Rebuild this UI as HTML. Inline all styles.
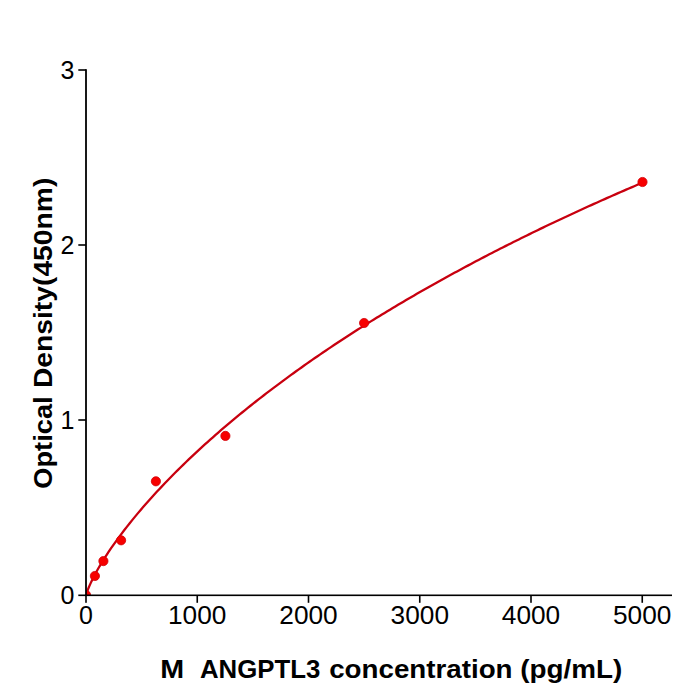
<!DOCTYPE html>
<html><head><meta charset="utf-8"><style>
html,body{margin:0;padding:0;background:#fff;}
svg{display:block;}
.t{font-family:"Liberation Sans",sans-serif;font-size:25px;fill:#000;}
.l{font-family:"Liberation Sans",sans-serif;font-size:25px;font-weight:bold;fill:#000;}
</style></head><body>
<svg width="700" height="700" viewBox="0 0 700 700">
<rect width="700" height="700" fill="#fff"/>
<defs><clipPath id="c"><rect x="86.0" y="70.0" width="586.0" height="525.0"/></clipPath></defs>
<g clip-path="url(#c)">
<polyline points="86.00,596.13 86.57,593.64 87.14,591.82 87.71,590.21 88.28,588.70 88.85,587.28 89.42,585.92 89.99,584.61 90.56,583.35 91.13,582.11 91.71,580.91 92.28,579.73 92.85,578.58 93.42,577.45 93.99,576.34 94.56,575.25 95.13,574.18 95.70,573.12 96.27,572.08 96.84,571.04 97.41,570.03 97.98,569.02 98.55,568.03 99.12,567.04 99.69,566.07 100.26,565.11 100.83,564.15 101.40,563.21 101.97,562.27 102.54,561.34 103.12,560.42 103.69,559.51 104.26,558.60 104.83,557.71 105.40,556.81 105.97,555.93 106.54,555.05 107.11,554.18 107.68,553.31 108.25,552.45 110.93,548.48 113.62,544.61 116.30,540.85 118.98,537.17 121.67,533.58 124.35,530.05 127.03,526.60 129.72,523.21 132.40,519.88 135.08,516.61 137.77,513.38 140.45,510.21 143.13,507.09 145.82,504.00 148.50,500.96 151.18,497.97 153.87,495.01 156.55,492.08 159.23,489.19 161.92,486.34 164.60,483.52 167.29,480.73 169.97,477.97 172.65,475.24 175.34,472.54 178.02,469.86 180.70,467.21 183.39,464.59 186.07,462.00 188.75,459.42 191.44,456.88 194.12,454.35 196.80,451.85 199.49,449.37 202.17,446.91 204.85,444.47 207.54,442.05 210.22,439.65 212.90,437.27 215.59,434.91 218.27,432.57 220.95,430.24 223.64,427.94 226.32,425.65 229.00,423.38 231.69,421.12 234.37,418.88 237.05,416.66 239.74,414.45 242.42,412.26 245.10,410.08 247.79,407.92 250.47,405.77 253.15,403.64 255.84,401.52 258.52,399.42 261.20,397.33 263.89,395.25 266.57,393.18 269.26,391.13 271.94,389.09 274.62,387.07 277.31,385.05 279.99,383.05 282.67,381.06 285.36,379.08 288.04,377.11 290.72,375.16 293.41,373.22 296.09,371.28 298.77,369.36 301.46,367.45 304.14,365.55 306.82,363.66 309.51,361.78 312.19,359.91 314.87,358.05 317.56,356.20 320.24,354.37 322.92,352.54 325.61,350.72 328.29,348.91 330.97,347.11 333.66,345.32 336.34,343.53 339.02,341.76 341.71,340.00 344.39,338.24 347.07,336.49 349.76,334.76 352.44,333.03 355.12,331.31 357.81,329.59 360.49,327.89 363.17,326.19 365.86,324.51 368.54,322.83 371.22,321.15 373.91,319.49 376.59,317.83 379.28,316.18 381.96,314.54 384.64,312.91 387.33,311.28 390.01,309.66 392.69,308.05 395.38,306.45 398.06,304.85 400.74,303.26 403.43,301.68 406.11,300.10 408.79,298.53 411.48,296.97 414.16,295.41 416.84,293.86 419.53,292.32 422.21,290.78 424.89,289.26 427.58,287.73 430.26,286.22 432.94,284.71 435.63,283.20 438.31,281.70 440.99,280.21 443.68,278.73 446.36,277.25 449.04,275.77 451.73,274.30 454.41,272.84 457.09,271.39 459.78,269.94 462.46,268.49 465.14,267.05 467.83,265.62 470.51,264.19 473.19,262.77 475.88,261.35 478.56,259.94 481.24,258.54 483.93,257.14 486.61,255.74 489.30,254.35 491.98,252.97 494.66,251.59 497.35,250.22 500.03,248.85 502.71,247.48 505.40,246.13 508.08,244.77 510.76,243.42 513.45,242.08 516.13,240.74 518.81,239.41 521.50,238.08 524.18,236.75 526.86,235.43 529.55,234.12 532.23,232.81 534.91,231.50 537.60,230.20 540.28,228.91 542.96,227.61 545.65,226.33 548.33,225.04 551.01,223.77 553.70,222.49 556.38,221.22 559.06,219.96 561.75,218.70 564.43,217.44 567.11,216.19 569.80,214.94 572.48,213.70 575.16,212.46 577.85,211.22 580.53,209.99 583.21,208.76 585.90,207.54 588.58,206.32 591.27,205.10 593.95,203.89 596.63,202.69 599.32,201.48 602.00,200.28 604.68,199.09 607.37,197.90 610.05,196.71 612.73,195.53 615.42,194.35 618.10,193.17 620.78,192.00 623.47,190.83 626.15,189.66 628.83,188.50 631.52,187.34 634.20,186.19 636.88,185.04 639.57,183.89 642.25,182.75" fill="none" stroke="#c8000f" stroke-width="2.3" stroke-linejoin="round"/>
<circle cx="86" cy="595" r="4.6" fill="#f70000" stroke="#d20008" stroke-width="0.8"/>
<circle cx="94.9" cy="576" r="4.6" fill="#f70000" stroke="#d20008" stroke-width="0.8"/>
<circle cx="103.4" cy="561.1" r="4.6" fill="#f70000" stroke="#d20008" stroke-width="0.8"/>
<circle cx="121.1" cy="540.3" r="4.6" fill="#f70000" stroke="#d20008" stroke-width="0.8"/>
<circle cx="155.9" cy="481.3" r="4.6" fill="#f70000" stroke="#d20008" stroke-width="0.8"/>
<circle cx="225.4" cy="435.9" r="4.6" fill="#f70000" stroke="#d20008" stroke-width="0.8"/>
<circle cx="364.1" cy="323" r="4.6" fill="#f70000" stroke="#d20008" stroke-width="0.8"/>
<circle cx="642.5" cy="182" r="4.6" fill="#f70000" stroke="#d20008" stroke-width="0.8"/>
</g>
<rect x="85.1" y="69.2" width="1.8" height="526.9" fill="#000"/>
<rect x="85.1" y="594.5" width="586.9" height="1.6" fill="#000"/>
<rect x="78.3" y="594.50" width="7.7" height="1.6" fill="#000"/>
<rect x="78.3" y="419.20" width="7.7" height="1.6" fill="#000"/>
<rect x="78.3" y="244.20" width="7.7" height="1.6" fill="#000"/>
<rect x="78.3" y="69.20" width="7.7" height="1.6" fill="#000"/>
<rect x="85.20" y="595" width="1.6" height="7.8" fill="#000"/>
<rect x="196.45" y="595" width="1.6" height="7.8" fill="#000"/>
<rect x="307.70" y="595" width="1.6" height="7.8" fill="#000"/>
<rect x="418.95" y="595" width="1.6" height="7.8" fill="#000"/>
<rect x="530.20" y="595" width="1.6" height="7.8" fill="#000"/>
<rect x="641.45" y="595" width="1.6" height="7.8" fill="#000"/>
<text x="74.5" y="603.9" text-anchor="end" class="t">0</text>
<text x="74.5" y="428.9" text-anchor="end" class="t">1</text>
<text x="74.5" y="253.9" text-anchor="end" class="t">2</text>
<text x="74.5" y="78.9" text-anchor="end" class="t">3</text>
<text x="86.0" y="624" text-anchor="middle" class="t">0</text>
<text x="197.2" y="624" text-anchor="middle" class="t" textLength="58.4" lengthAdjust="spacingAndGlyphs">1000</text>
<text x="308.5" y="624" text-anchor="middle" class="t" textLength="58.4" lengthAdjust="spacingAndGlyphs">2000</text>
<text x="419.8" y="624" text-anchor="middle" class="t" textLength="58.4" lengthAdjust="spacingAndGlyphs">3000</text>
<text x="531.0" y="624" text-anchor="middle" class="t" textLength="58.4" lengthAdjust="spacingAndGlyphs">4000</text>
<text x="642.2" y="624" text-anchor="middle" class="t" textLength="58.4" lengthAdjust="spacingAndGlyphs">5000</text>
<text x="160.31" y="678" class="l" textLength="23.89" lengthAdjust="spacingAndGlyphs">M</text>
<text x="199.97" y="678" class="l" textLength="120.34" lengthAdjust="spacingAndGlyphs">ANGPTL3</text>
<text x="329.19" y="678" class="l" textLength="183.35" lengthAdjust="spacingAndGlyphs">concentration</text>
<text x="520.29" y="678" class="l" textLength="102.04" lengthAdjust="spacingAndGlyphs">(pg/mL)</text>
<text transform="translate(52.3,488.69) rotate(-90)" x="0" y="0" class="l" textLength="92.29" lengthAdjust="spacingAndGlyphs">Optical</text>
<text transform="translate(52.3,388.06) rotate(-90)" x="0" y="0" class="l" textLength="210.38" lengthAdjust="spacingAndGlyphs">Density(450nm)</text>
</svg>
</body></html>
